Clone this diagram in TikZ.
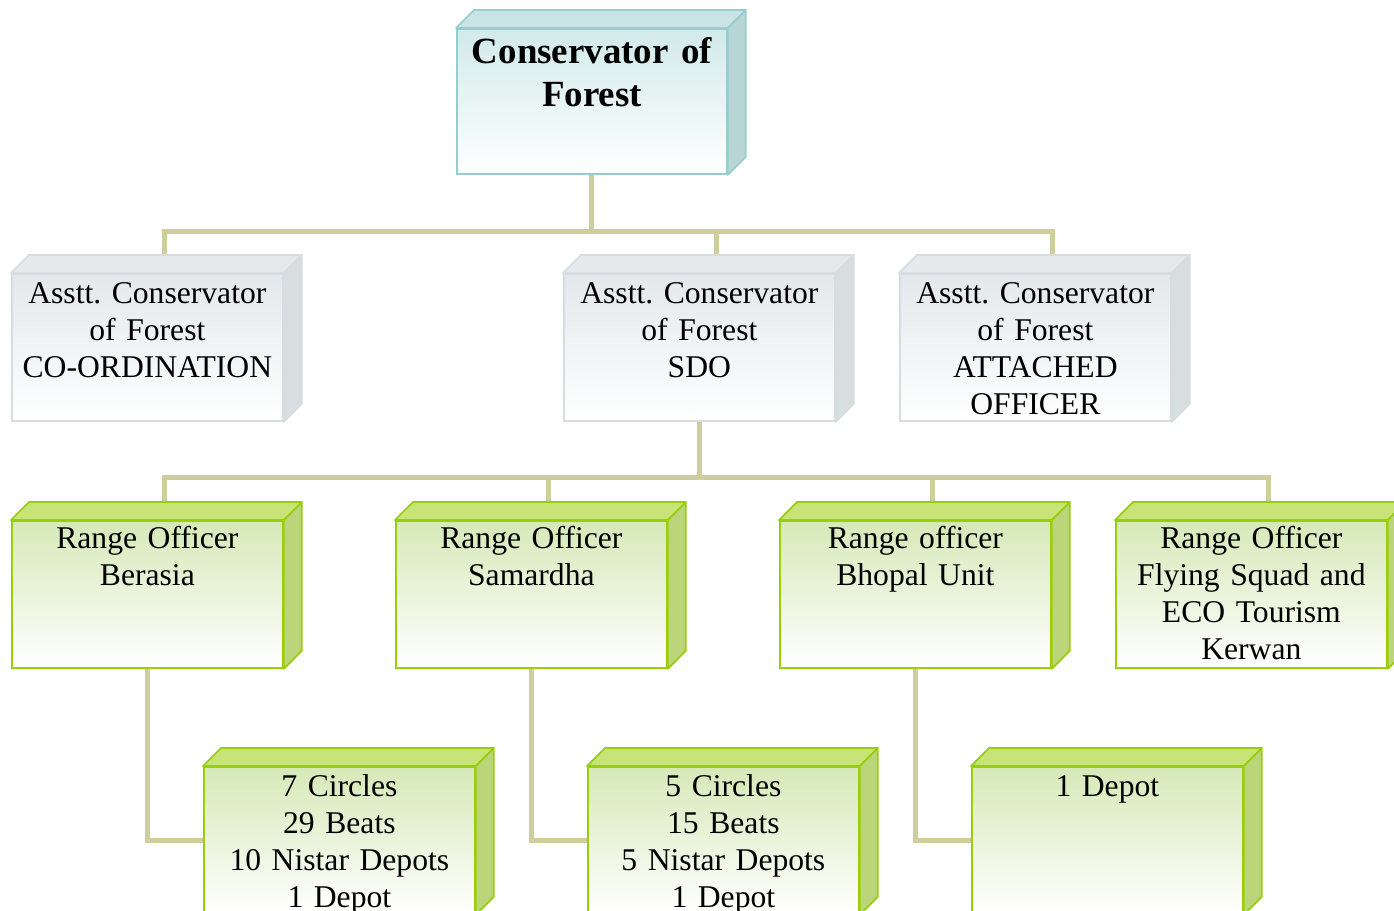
\documentclass[tikz,border=0pt]{standalone}
\usepackage{fontspec}
\setmainfont{Liberation Serif}
\usetikzlibrary{backgrounds}
\frenchspacing

\definecolor{lineteal}{RGB}{150,205,205}
\definecolor{topteal}{RGB}{200,228,228}
\definecolor{sideteal}{RGB}{184,214,214}
\definecolor{frontteal}{RGB}{210,234,234}
\definecolor{linegrey}{RGB}{214,220,223}
\definecolor{topgrey}{RGB}{229,233,235}
\definecolor{sidegrey}{RGB}{216,221,223}
\definecolor{frontgrey}{RGB}{228,232,234}
\definecolor{linegreen}{RGB}{153,206,10}
\definecolor{topgreen}{RGB}{200,228,120}
\definecolor{sidegreen}{RGB}{188,212,122}
\definecolor{frontgreen}{RGB}{214,233,184}
\definecolor{linkcol}{RGB}{206,206,156}

\begin{document}
\begin{tikzpicture}[
    box/.style={draw, line width=1pt, anchor=north west, inner sep=0pt, text width=5.42cm, align=center,
        font=\fontsize{18}{21}\selectfont, text height=0.6cm, text depth=2.34cm, bottom color=white},
    chief/.style={box, draw=lineteal, top color=frontteal, text width=5.4cm, text height=0.7cm, text depth=2.2cm,
        font=\fontsize{21}{24.4}\selectfont\bfseries},
    acf/.style={box, draw=linegrey, top color=frontgrey},
    ranger/.style={box, draw=linegreen, top color=frontgreen, text height=0.56cm, text depth=2.38cm},
    unit/.style={box, draw=linegreen, top color=frontgreen},
    face/.style={line width=1pt, line join=round},
    link/.style={draw=linkcol, line width=0.1cm}
]
\useasboundingbox (0,0) rectangle (27.88,18.2);

\node[chief] (cf) at (9.12,17.64) {Conservator of\\Forest};

\node[acf] (acfco) at (0.22,12.74) {Asstt. Conservator\\of Forest\\CO-ORDINATION};
\node[acf] (acfsdo) at (11.26,12.74) {Asstt. Conservator\\of Forest\\SDO};
\node[acf] (acfatt) at (17.98,12.74) {Asstt. Conservator\\of Forest\\ATTACHED\\OFFICER};

\node[ranger] (ro1) at (0.22,7.8) {Range Officer\\Berasia};
\node[ranger] (ro2) at (7.9,7.8) {Range Officer\\Samardha};
\node[ranger] (ro3) at (15.58,7.8) {Range officer\\Bhopal Unit};
\node[ranger] (ro4) at (22.3,7.8) {Range Officer\\Flying Squad and\\ECO Tourism\\Kerwan};

\node[unit] (un1) at (4.06,2.88) {7 Circles\\29 Beats\\10 Nistar Depots\\1 Depot};
\node[unit] (un2) at (11.74,2.88) {5 Circles\\15 Beats\\5 Nistar Depots\\1 Depot};
\node[unit] (un3) at (19.42,2.88) {1 Depot};

% top and side of each box
\foreach \n/\c in {cf/teal, acfco/grey, acfsdo/grey, acfatt/grey,
    ro1/green, ro2/green, ro3/green, ro4/green, un1/green, un2/green, un3/green} {
  \filldraw[face, draw=line\c, fill=top\c] (\n.north west) -- ++(0.36,0.36)
    -- ([shift={(0.36,0.36)}]\n.north east) -- (\n.north east) -- cycle;
  \filldraw[face, draw=line\c, fill=side\c] (\n.north east) -- ++(0.36,0.36)
    -- ([shift={(0.36,0.36)}]\n.south east) -- (\n.south east) -- cycle;
}

\begin{pgfonlayer}{background}
\draw[link] (cf.south) -- ++(0,-1.14) coordinate (bus1);
\draw[link] ([xshift=0.35cm]acfco.north) |- (bus1) -| ([xshift=0.35cm]acfatt.north);
\draw[link] (bus1) -| ([xshift=0.35cm]acfsdo.north);

\draw[link] (acfsdo.south) -- ++(0,-1.12) coordinate (bus2);
\draw[link] ([xshift=0.35cm]ro1.north) |- (bus2) -| ([xshift=0.35cm]ro4.north);
\draw[link] ([xshift=0.35cm]ro2.north) |- (bus2);
\draw[link] ([xshift=0.35cm]ro3.north) |- (bus2);

\draw[link] (ro1.south) |- (un1.west);
\draw[link] (ro2.south) |- (un2.west);
\draw[link] (ro3.south) |- (un3.west);
\end{pgfonlayer}
\end{tikzpicture}
\end{document}
